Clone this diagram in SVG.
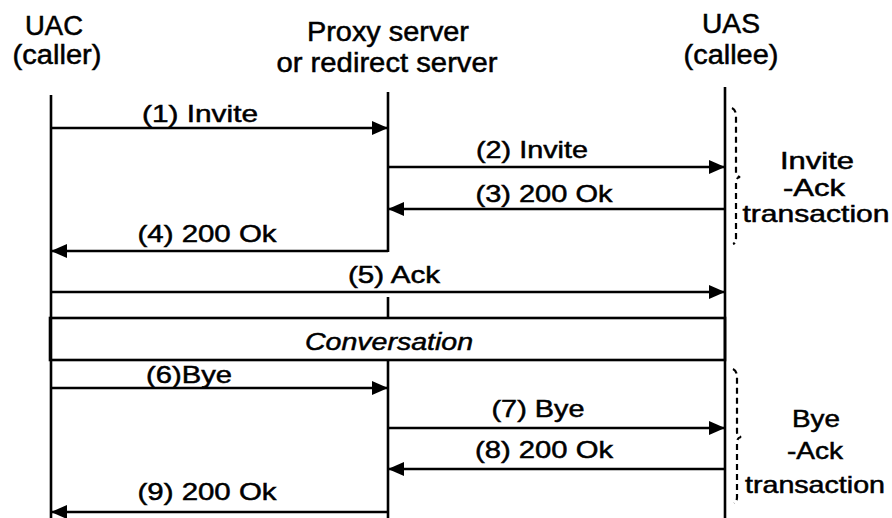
<svg xmlns="http://www.w3.org/2000/svg" width="892" height="518" viewBox="0 0 892 518">
<defs>
<style>
text{font-family:"Liberation Sans",Arial,sans-serif;fill:#000;stroke:#000;stroke-width:0.5;text-anchor:middle}
.h{font-size:27px}
.m{font-size:24.5px}
.r{font-size:24px}
.i{font-size:24.5px;font-style:italic}
.ln{stroke:#000;stroke-width:2.6;fill:none}
.br{stroke:#000;stroke-width:2.2;fill:none;stroke-dasharray:6 4}
</style>
<marker id="ah" viewBox="0 0 16 14" refX="16" refY="7" markerWidth="16" markerHeight="14" markerUnits="userSpaceOnUse" orient="auto">
<path d="M0,0 L16,7 L0,14 z" fill="#000"/>
</marker>
</defs>
<rect width="892" height="518" fill="#fff"/>
<g id="uac">
<text class="h" x="54" y="35" textLength="58" lengthAdjust="spacingAndGlyphs">UAC</text>
<text class="h" x="57" y="64" textLength="89" lengthAdjust="spacingAndGlyphs">(caller)</text>
<line class="ln" x1="51" y1="95" x2="51" y2="518"/>
</g>
<g id="proxy">
<text class="h" x="388" y="41" textLength="162" lengthAdjust="spacingAndGlyphs">Proxy server</text>
<text class="h" x="387" y="72" textLength="221" lengthAdjust="spacingAndGlyphs">or redirect server</text>
<line class="ln" x1="388" y1="92" x2="388" y2="252"/>
<line class="ln" x1="388" y1="297" x2="388" y2="318"/>
<line class="ln" x1="388" y1="360" x2="388" y2="518"/>
</g>
<g id="uas">
<text class="h" x="731" y="33" textLength="58" lengthAdjust="spacingAndGlyphs">UAS</text>
<text class="h" x="731" y="64" textLength="95" lengthAdjust="spacingAndGlyphs">(callee)</text>
<line class="ln" x1="725" y1="87" x2="725" y2="518"/>
</g>
<g id="conversation">
<rect class="ln" x="50" y="318" width="675" height="42"/>
<text class="i" x="389" y="350" textLength="168" lengthAdjust="spacingAndGlyphs">Conversation</text>
</g>
<g id="invite-ack">
<path class="br" d="M732,108 Q736,110 736,116 L736,172 Q736,176 740,177 Q736,178 736,182 L736,238 Q736,243 733,244"/>
<text class="r" x="817" y="169" textLength="74" lengthAdjust="spacingAndGlyphs">Invite</text>
<text class="r" x="814" y="196" textLength="62" lengthAdjust="spacingAndGlyphs">-Ack</text>
<text class="r" x="816" y="222" textLength="147" lengthAdjust="spacingAndGlyphs">transaction</text>
</g>
<g id="bye-ack">
<path class="br" d="M733,369 Q737,371 737,377 L737,432 Q737,436 741,437 Q737,438 737,442 L737,497 Q737,502 734,503"/>
<text class="r" x="816" y="427" textLength="48" lengthAdjust="spacingAndGlyphs">Bye</text>
<text class="r" x="815" y="459" textLength="56" lengthAdjust="spacingAndGlyphs">-Ack</text>
<text class="r" x="815" y="493" textLength="140" lengthAdjust="spacingAndGlyphs">transaction</text>
</g>
<g id="connectors">
<line class="ln" x1="51" y1="128" x2="388" y2="128" marker-end="url(#ah)"/>
<line class="ln" x1="388" y1="167" x2="725" y2="167" marker-end="url(#ah)"/>
<line class="ln" x1="725" y1="209" x2="388" y2="209" marker-end="url(#ah)"/>
<line class="ln" x1="388" y1="251" x2="51" y2="251" marker-end="url(#ah)"/>
<line class="ln" x1="51" y1="292" x2="725" y2="292" marker-end="url(#ah)"/>
<line class="ln" x1="51" y1="388" x2="388" y2="388" marker-end="url(#ah)"/>
<line class="ln" x1="388" y1="428" x2="725" y2="428" marker-end="url(#ah)"/>
<line class="ln" x1="725" y1="469" x2="388" y2="469" marker-end="url(#ah)"/>
<line class="ln" x1="388" y1="512" x2="51" y2="512" marker-end="url(#ah)"/>
<text class="m" x="200" y="122" textLength="116" lengthAdjust="spacingAndGlyphs">(1) Invite</text>
<text class="m" x="532" y="158" textLength="112" lengthAdjust="spacingAndGlyphs">(2) Invite</text>
<text class="m" x="544" y="202" textLength="137" lengthAdjust="spacingAndGlyphs">(3) 200 Ok</text>
<text class="m" x="207" y="242" textLength="139" lengthAdjust="spacingAndGlyphs">(4) 200 Ok</text>
<text class="m" x="394" y="283" textLength="92" lengthAdjust="spacingAndGlyphs">(5) Ack</text>
<text class="m" x="189" y="383" textLength="86" lengthAdjust="spacingAndGlyphs">(6)Bye</text>
<text class="m" x="538" y="417" textLength="93" lengthAdjust="spacingAndGlyphs">(7) Bye</text>
<text class="m" x="544" y="458" textLength="138" lengthAdjust="spacingAndGlyphs">(8) 200 Ok</text>
<text class="m" x="207" y="500" textLength="139" lengthAdjust="spacingAndGlyphs">(9) 200 Ok</text>
</g>
</svg>
